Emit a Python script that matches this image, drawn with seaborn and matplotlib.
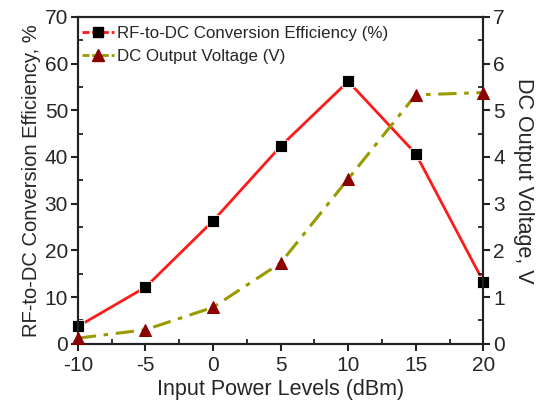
import matplotlib
matplotlib.use("Agg")
import matplotlib.pyplot as plt
import seaborn as sns
import pandas as pd
from matplotlib.ticker import MultipleLocator
from matplotlib.lines import Line2D

power = [-10, -5, 0, 5, 10, 15, 20]
efficiency = [3.7, 12.1, 26.3, 42.3, 56.2, 40.7, 13.3]
voltage = [0.12, 0.3, 0.78, 1.73, 3.53, 5.33, 5.38]

sns.set_style("ticks")
plt.rcParams['font.family'] = ['Liberation Sans', 'DejaVu Sans']
plt.rcParams['axes.unicode_minus'] = False

df = pd.DataFrame({"power": power, "eff": efficiency, "volt": voltage})

fig = plt.figure(figsize=(5.48, 4.03), dpi=100)
ax = fig.add_axes([0.142, 0.147, 0.740, 0.811])
ax2 = ax.twinx()

sns.lineplot(data=df, x="power", y="eff", ax=ax, color="#ff1a1a", lw=2,
             marker="s", markersize=8, markerfacecolor="black",
             markeredgecolor="white", markeredgewidth=0.6, clip_on=False, zorder=3)
sns.lineplot(data=df, x="power", y="volt", ax=ax2, color="#999900", lw=2.2,
             linestyle=(0, (6, 2.5, 1.5, 2.5)), marker="^", markersize=9,
             markerfacecolor="#8b0000", markeredgecolor="#8b0000", clip_on=False, zorder=3)

ax.set_xlim(-10, 20)
ax.set_ylim(0, 70)
ax2.set_ylim(0, 7)
ax.xaxis.set_major_locator(MultipleLocator(5))
ax.xaxis.set_minor_locator(MultipleLocator(2.5))
ax.yaxis.set_major_locator(MultipleLocator(10))
ax.yaxis.set_minor_locator(MultipleLocator(5))
ax2.yaxis.set_major_locator(MultipleLocator(1))
ax2.yaxis.set_minor_locator(MultipleLocator(0.5))

for a in (ax, ax2):
    for s in a.spines.values():
        s.set_visible(True)
        s.set_linewidth(1.5)
        s.set_color("#222222")
    a.tick_params(which="major", direction="out", length=5, width=1.5, labelsize=15,
                  color="#222222", pad=2)
    a.tick_params(which="minor", direction="in", length=3.5, width=1.3, color="#222222")
ax.tick_params(axis="x", which="major", pad=4)

ax.set_xlabel("Input Power Levels (dBm)", fontsize=15.5, labelpad=3)
ax.set_ylabel("RF-to-DC Conversion Efficiency, %", fontsize=14.5, labelpad=3)
ax2.set_ylabel("DC Output Voltage, V", fontsize=15.5, rotation=270, labelpad=21)

handles = [
    Line2D([], [], color="#ff1a1a", lw=2, linestyle=(0, (2.5, 1)), marker="s", markersize=7,
           markerfacecolor="black", markeredgecolor="black"),
    Line2D([], [], color="#999900", lw=2, linestyle=(0, (2.5, 1)), marker="^", markersize=8,
           markerfacecolor="#8b0000", markeredgecolor="#8b0000"),
]
ax.legend(handles, ["RF-to-DC Conversion Efficiency (%)", "DC Output Voltage (V)"],
          loc="upper left", frameon=False, fontsize=12.2, handlelength=1.9,
          handletextpad=0.15, borderaxespad=0.15, labelspacing=0.45,
          bbox_to_anchor=(-0.012, 1.0))

fig.savefig("out.png", dpi=100)
